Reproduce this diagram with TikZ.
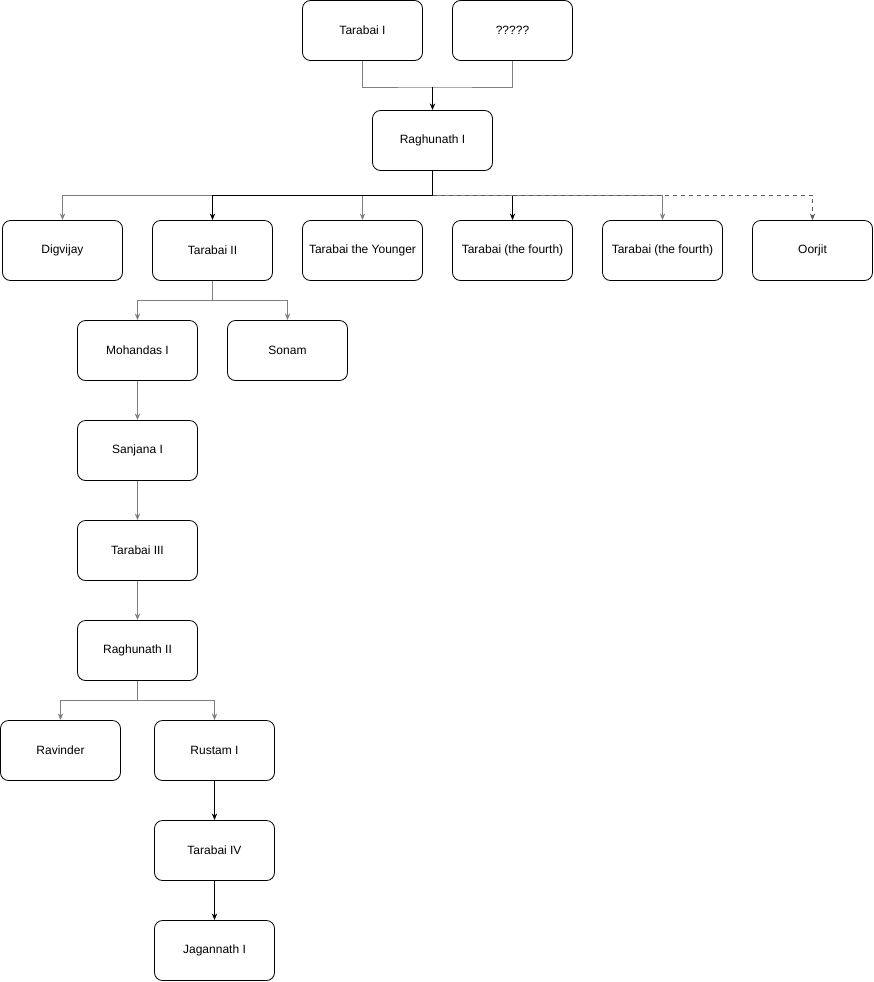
\documentclass[tikz,border=0pt]{standalone}
\usepackage{fontspec}
\setmainfont{Liberation Sans}
\usetikzlibrary{arrows.meta}
\tikzset{
  person/.style={draw, rounded corners=6pt, minimum width=90pt, minimum height=45pt, font=\fontsize{9}{11}\selectfont, line width=0.6pt},
  tie/.style={-{Stealth[length=5pt,width=4pt]}, line width=0.6pt},
  faint/.style={tie, draw=gray},
}
\begin{document}
\begin{tikzpicture}[x=0.75pt, y=-0.75pt]
\useasboundingbox (0,0) rectangle (874,982);
\node[person] (T1) at (362.5,30.5) {Tarabai I};
\node[person] (Q) at (512.5,30.5) {?????};
\node[person] (R1) at (432.5,140.5) {Raghunath I};
\node[person] (Dg) at (62.5,250.5) {Digvijay};
\node[person] (T2) at (212.5,250.5) {Tarabai II};
\node[person] (TY) at (362.5,250.5) {Tarabai the Younger};
\node[person] (TF) at (512.5,250.5) {Tarabai (the fourth)};
\node[person] (TG) at (662.5,250.5) {Tarabai (the fourth)};
\node[person] (Oo) at (812.5,250.5) {Oorjit};
\node[person] (M1) at (137.5,350.5) {Mohandas I};
\node[person] (So) at (287.5,350.5) {Sonam};
\node[person] (S1) at (137.5,450.5) {Sanjana I};
\node[person] (T3) at (137.5,550.5) {Tarabai III};
\node[person] (R2) at (137.5,650.5) {Raghunath II};
\node[person] (Rv) at (60.5,750.5) {Ravinder};
\node[person] (Ru) at (214.5,750.5) {Rustam I};
\node[person] (T4) at (214.5,850.5) {Tarabai IV};
\node[person] (J1) at (214.5,950.5) {Jagannath I};

% parents
\coordinate (p) at (432.5,87);
\draw[gray, line width=0.6pt] (T1.south) |- (p) -| (Q.south);
\draw[tie] (p) -- (R1.north);

% children of Raghunath I
\draw[line width=0.6pt] (R1.south) -- (432.5,195);
\draw[faint] (432.5,195) -| (Dg.north);
\draw[faint] (432.5,195) -| (TY.north);
\draw[tie] (432.5,195) -| (T2.north);
\draw[tie] (432.5,195) -| (TF.north);
\draw[faint] (432.5,195) -| (TG.north);
\draw[tie, dashed, gray!70!black] (432.5,195) -| (Oo.north);

% Tarabai II line
\draw[faint] (T2.south) |- (212.5,300) -| (M1.north);
\draw[faint] (212.5,300) -| (So.north);
\draw[faint] (M1) -- (S1);
\draw[faint] (S1) -- (T3);
\draw[faint] (T3) -- (R2);
\draw[faint] (R2.south) |- (137.5,700) -| (Rv.north);
\draw[faint] (137.5,700) -| (Ru.north);
\draw[tie] (Ru) -- (T4);
\draw[tie] (T4) -- (J1);
\end{tikzpicture}
\end{document}
